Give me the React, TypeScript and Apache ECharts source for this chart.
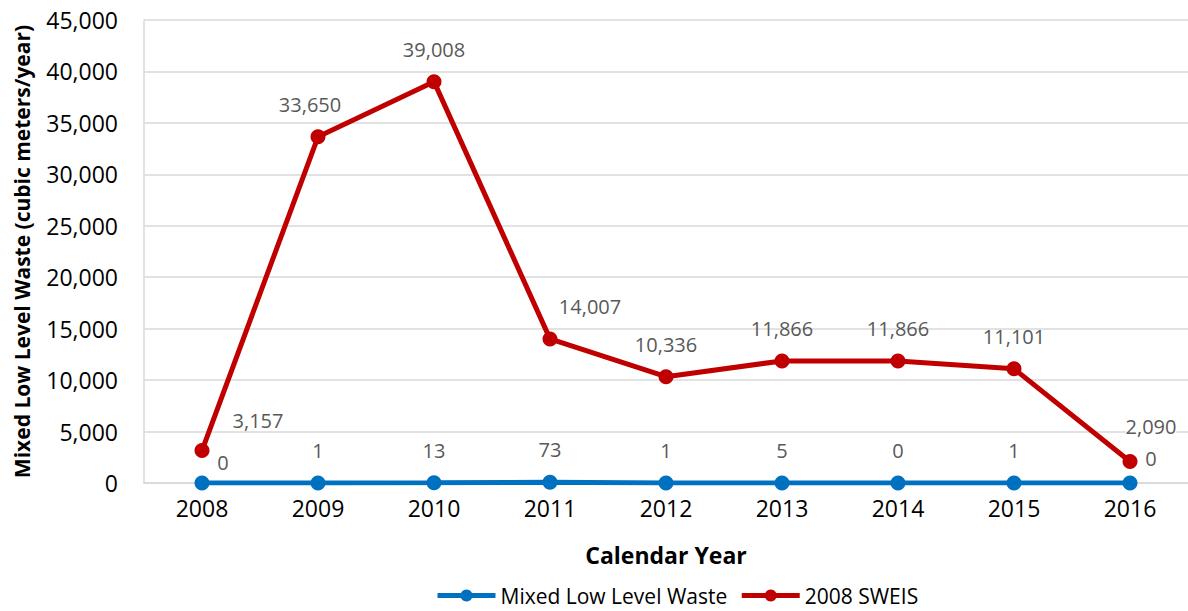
import React, { useEffect, useRef } from "react";
import * as echarts from "echarts";

const years = ["2008", "2009", "2010", "2011", "2012", "2013", "2014", "2015", "2016"];
const mixedLowLevelWaste = [0, 1, 13, 73, 1, 5, 0, 1, 0];
const sweis2008 = [3157, 33650, 39008, 14007, 10336, 11866, 11866, 11101, 2090];
const yTicks = { min: 0, max: 45000, interval: 5000 };

const FONT = "Open Sans";
const LABEL_GRAY = "#595959";

export default function App() {
  const ref = useRef<HTMLDivElement>(null);
  useEffect(() => {
    document.body.style.margin = "0";
    const chart = echarts.init(ref.current!, null, { renderer: "svg" });

    const blueOffsets: Record<number, number[]> = { 0: [21, 12], 8: [21, 8] };
    const redOffsets: Record<number, number[]> = { 0: [56, 2], 1: [-8, 0], 3: [40, 0], 8: [21, -2] };

    const labelBase = {
      show: true,
      position: "top",
      distance: 15,
      color: LABEL_GRAY,
      fontFamily: FONT,
      fontSize: 20,
      formatter: (p: any) => Number(p.value).toLocaleString("en-US"),
    };

    chart.setOption({
      animation: false,
      textStyle: { fontFamily: FONT },
      grid: { left: 144, right: 0, top: 20, bottom: 128, containLabel: false },
      legend: {
        bottom: 0,
        left: 430,
        itemWidth: 58,
        itemHeight: 15,
        itemGap: 12,
        lineStyle: { width: 5 },
        textStyle: { fontFamily: FONT, fontSize: 21, color: "#000" },
        data: ["Mixed Low Level Waste", "2008 SWEIS"],
      },
      xAxis: {
        type: "category",
        data: years,
        boundaryGap: true,
        name: "Calendar Year",
        nameLocation: "middle",
        nameGap: 60,
        nameTextStyle: { fontFamily: FONT, fontSize: 23, fontWeight: "bold", color: "#000" },
        axisLine: { lineStyle: { color: "#d9d9d9", width: 1.5 } },
        axisTick: { show: false },
        axisLabel: { color: "#000", fontSize: 23, margin: 13, fontFamily: FONT },
      },
      yAxis: {
        type: "value",
        min: yTicks.min,
        max: yTicks.max,
        interval: yTicks.interval,
        name: "Mixed Low Level Waste (cubic meters/year)",
        nameLocation: "middle",
        nameRotate: 90,
        nameGap: 112,
        nameTextStyle: { fontFamily: FONT, fontSize: 21, fontWeight: "bold", color: "#000" },
        axisLine: { show: true, lineStyle: { color: "#d9d9d9", width: 1.5 } },
        axisTick: { show: false },
        axisLabel: {
          color: "#000",
          fontSize: 23,
          margin: 26,
          fontFamily: FONT,
          formatter: (v: number) => v.toLocaleString("en-US"),
        },
        splitLine: { lineStyle: { color: "#d9d9d9", width: 1.5 } },
      },
      series: [
        {
          name: "Mixed Low Level Waste",
          type: "line",
          data: mixedLowLevelWaste.map((v, i) =>
            blueOffsets[i] ? { value: v, label: { offset: blueOffsets[i] } } : v
          ),
          color: "#0070C0",
          lineStyle: { width: 5, color: "#0070C0" },
          itemStyle: { color: "#0070C0" },
          symbol: "circle",
          symbolSize: 15,
          label: labelBase,
          z: 2,
        },
        {
          name: "2008 SWEIS",
          type: "line",
          data: sweis2008.map((v, i) =>
            redOffsets[i]
              ? { value: v, label: { offset: redOffsets[i], backgroundColor: "#fff" } }
              : v
          ),
          color: "#C00000",
          lineStyle: { width: 5, color: "#C00000" },
          itemStyle: { color: "#C00000" },
          symbol: "circle",
          symbolSize: 15,
          label: labelBase,
          z: 3,
        },
      ],
    });
    return () => chart.dispose();
  }, []);
  return <div ref={ref} style={{ width: 1188, height: 611 }} />;
}
